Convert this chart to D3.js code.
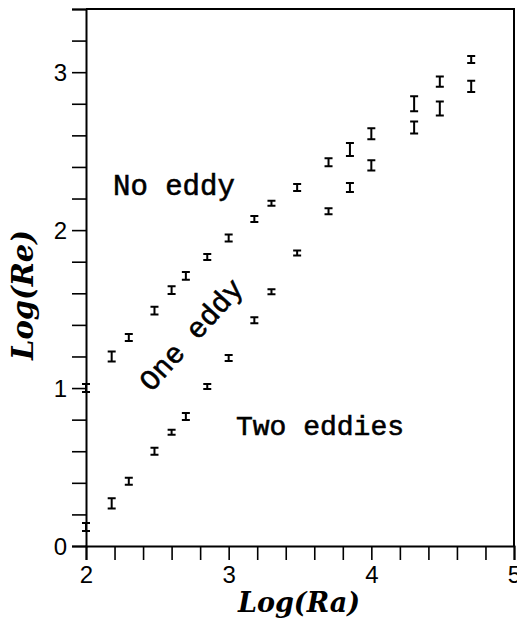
<!DOCTYPE html>
<html>
<head>
<meta charset="utf-8">
<script src="https://cdn.jsdelivr.net/npm/d3@7"></script>
<style>
  body { margin: 0; background: #fff; }
  svg { display: block; }
</style>
</head>
<body>
<svg id="chart" width="517" height="628"></svg>
<script>
// Log(Ra) values where runs were made (shared by both boundaries)
const logRa = [2.00, 2.18, 2.30, 2.48, 2.60, 2.70, 2.85, 3.00, 3.18, 3.30, 3.48, 3.70, 3.85, 4.00, 4.30, 4.48, 4.70];

// upper boundary: no eddy / one eddy
const upperRe  = [1.00, 1.20, 1.32, 1.49, 1.62, 1.71, 1.83, 1.95, 2.07, 2.17, 2.27, 2.43, 2.51, 2.61, 2.80, 2.94, 3.08];
const upperErr = [0.025, 0.032, 0.022, 0.025, 0.025, 0.025, 0.019, 0.022, 0.019, 0.016, 0.022, 0.025, 0.041, 0.035, 0.047, 0.032, 0.022];

// lower boundary: one eddy / two eddies
const lowerRe  = [0.12, 0.27, 0.41, 0.60, 0.72, 0.82, 1.01, 1.19, 1.43, 1.61, 1.855, 2.12, 2.27, 2.41, 2.65, 2.77, 2.91];
const lowerErr = [0.025, 0.032, 0.022, 0.022, 0.016, 0.022, 0.016, 0.019, 0.019, 0.016, 0.016, 0.019, 0.028, 0.032, 0.038, 0.044, 0.035];

// axis ticks
const xTickLabels = [2, 3, 4, 5];
const yTickLabels = [0, 1, 2, 3];
const xDomain = [2, 5];
const yDomain = [0, 3.4];
const minorStep = 0.2;

const svg = d3.select("#chart");
const x = d3.scaleLinear().domain(xDomain).range([86, 514]);
const y = d3.scaleLinear().domain(yDomain).range([546, 9]);

const tickVals = (d) => d3.range(Math.round((d[1] - d[0]) / minorStep) + 1).map(i => +(d[0] + i * minorStep).toFixed(2));

const labelFont = "'Liberation Sans', Arial, sans-serif";

// frame (top + right)
svg.append("path")
  .attr("d", `M${x(2)},${y(3.4)}H${x(5)}V${y(0)}`)
  .attr("fill", "none")
  .attr("stroke", "#000")
  .attr("stroke-width", 2);

// x axis
const xAxis = svg.append("g")
  .attr("transform", `translate(0,${y(0)})`)
  .call(d3.axisBottom(x)
    .tickValues(tickVals(xDomain))
    .tickSize(14)
    .tickPadding(6)
    .tickFormat(d => xTickLabels.includes(d) ? d : ""));

// y axis
const yAxis = svg.append("g")
  .attr("transform", `translate(${x(2)},0)`)
  .call(d3.axisLeft(y)
    .tickValues(tickVals(yDomain))
    .tickSize(14)
    .tickPadding(5)
    .tickFormat(d => yTickLabels.includes(d) ? d : ""));

[xAxis, yAxis].forEach(a => {
  a.select(".domain").attr("stroke-width", 2);
  a.selectAll(".tick line").attr("stroke-width", 1.6);
  a.selectAll(".tick text")
    .style("font-family", labelFont)
    .style("font-size", "24px")
    .attr("fill", "#000");
});
xAxis.selectAll(".tick text").attr("dy", "0.72em");
yAxis.selectAll(".tick text").attr("dy", "0.36em");

// axis titles
svg.append("text")
  .attr("x", 299)
  .attr("y", 612)
  .attr("text-anchor", "middle")
  .style("font-family", "'DejaVu Serif', serif")
  .style("font-style", "italic")
  .style("font-weight", "bold")
  .style("font-size", "27px")
  .text("Log(Ra)");

svg.append("text")
  .attr("transform", "translate(33,295) rotate(-90)")
  .attr("text-anchor", "middle")
  .style("font-family", "'DejaVu Serif', serif")
  .style("font-style", "italic")
  .style("font-weight", "bold")
  .style("font-size", "29px")
  .text("Log(Re)");

// error bars
function errorBars(vals, errs, cls) {
  const pts = logRa.map((r, i) => ({ r, v: vals[i], e: errs[i] }));
  const capW = 4;
  const gBars = svg.append("g").attr("class", cls)
    .attr("stroke", "#000")
    .attr("fill", "none");
  gBars.selectAll("path")
    .data(pts)
    .join("path")
      .attr("stroke-width", 2)
      .attr("d", d => {
        const cx = x(d.r), y0 = y(d.v - d.e), y1 = y(d.v + d.e);
        return `M${cx},${y0}V${y1}` +
               `M${cx - capW},${y1}H${cx + capW}` +
               `M${cx - capW},${y0}H${cx + capW}`;
      });
}
errorBars(upperRe, upperErr, "upper");
errorBars(lowerRe, lowerErr, "lower");

// region labels
const regionFont = "'Liberation Mono', 'Courier New', monospace";
function regionLabel(txt, tx, ty, rot, anchor, size) {
  svg.append("text")
    .attr("transform", `translate(${tx},${ty}) rotate(${rot})`)
    .attr("text-anchor", anchor)
    .style("font-family", regionFont)
    .style("font-size", size + "px")
    .attr("fill", "#000")
    .attr("stroke", "#000")
    .attr("stroke-width", 0.6)
    .text(txt);
}
regionLabel("No eddy", 113, 195, 0, "start", 29);
regionLabel("Two eddies", 236, 435, 0, "start", 28);
regionLabel("One eddy", 198, 341, -48, "middle", 29);
</script>
</body>
</html>
